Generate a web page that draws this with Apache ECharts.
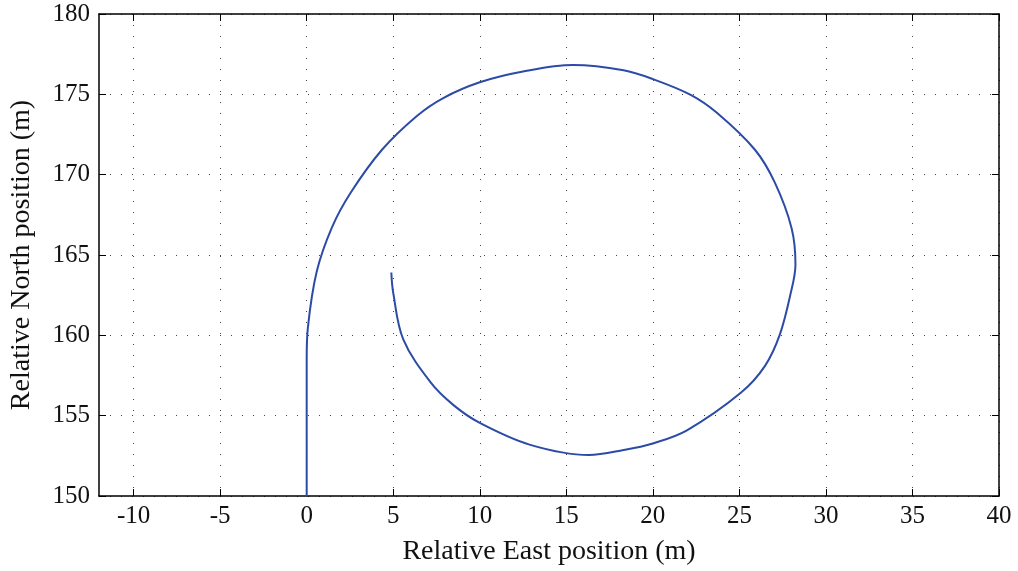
<!DOCTYPE html>
<html>
<head>
<meta charset="utf-8">
<script src="https://cdn.jsdelivr.net/npm/echarts@6/dist/echarts.min.js"></script>
<style>
  html, body { margin: 0; padding: 0; background: #fff; }
  #chart { width: 1018px; height: 571px; }
</style>
</head>
<body>
<div id="chart"></div>
<script>
// track of the vehicle, relative position in metres
const eastPos = [0, 0, 0.07, 0.58, 1.46, 2.53, 4.35, 6.35, 7.89, 10, 12.5, 15.4, 18.31,
  20, 22.16, 23.7, 25.9, 27.05, 28.02, 28.24, 27.97, 27.34, 26.48, 25.1, 21.97,
  20, 18.31, 16.3, 12.87, 10, 8.5, 7.16, 5.58, 5.0, 4.89];
const northPos = [150, 158.5, 160.5, 163.97, 166.72, 168.86, 171.55, 173.64, 174.77, 175.75, 176.42, 176.82, 176.5,
  175.95, 174.98, 173.85, 171.55, 169.5, 166.65, 164.4, 162.65, 160.06, 158.1, 156.44, 154.09,
  153.27, 152.86, 152.55, 153.2, 154.55, 155.64, 157.07, 159.75, 162.64, 163.91];
const xTicks = [-10, -5, 0, 5, 10, 15, 20, 25, 30, 35, 40];

const font = "'Liberation Serif', 'DejaVu Serif', serif";
const track = eastPos.map((e, i) => [e, northPos[i]]);

const chart = echarts.init(document.getElementById("chart"));

// dotted grid lines like the matlab plot
const gridLine = {
  show: true,
  lineStyle: { color: "#444", width: 1, type: [1, 10] }
};

function xAxisOf(pos, labels) {
  return {
    type: "value",
    position: pos,
    min: -12,
    max: 40,
    axisLine: { show: true, onZero: false, lineStyle: { color: "#000", width: 1.5 } },
    axisTick: { show: true, inside: true, length: 7, customValues: xTicks, lineStyle: { color: "#000" } },
    axisLabel: { show: labels, customValues: xTicks, color: "#111", fontFamily: font, fontSize: 25, margin: 8 },
    splitLine: labels ? gridLine : { show: false }
  };
}
function yAxisOf(pos, labels) {
  return {
    type: "value",
    position: pos,
    min: 150,
    max: 180,
    interval: 5,
    axisLine: { show: true, onZero: false, lineStyle: { color: "#000", width: 1.5 } },
    axisTick: { show: true, inside: true, length: 7, lineStyle: { color: "#000" } },
    axisLabel: { show: labels, color: "#111", fontFamily: font, fontSize: 25, margin: 9 },
    splitLine: labels ? gridLine : { show: false }
  };
}

const xMain = xAxisOf("bottom", true);
xMain.name = "Relative East position (m)";
xMain.nameLocation = "middle";
xMain.nameGap = 42;
xMain.nameTextStyle = { color: "#111", fontFamily: font, fontSize: 28 };

const yMain = yAxisOf("left", true);
yMain.name = "Relative North position (m)";
yMain.nameLocation = "middle";
yMain.nameGap = 63;
yMain.nameTextStyle = { color: "#111", fontFamily: font, fontSize: 28 };

const option = {
  animation: false,
  backgroundColor: "#fff",
  grid: { left: 97, right: 19, top: 14, bottom: 74 },
  xAxis: [xMain, xAxisOf("top", false)],
  yAxis: [yMain, yAxisOf("right", false)],
  series: [
    {
      type: "line",
      data: track,
      xAxisIndex: 0,
      yAxisIndex: 0,
      showSymbol: false,
      smooth: 0.35,
      lineStyle: { color: "#2c4ba6", width: 2 }
    }
  ]
};

chart.setOption(option);
</script>
</body>
</html>
